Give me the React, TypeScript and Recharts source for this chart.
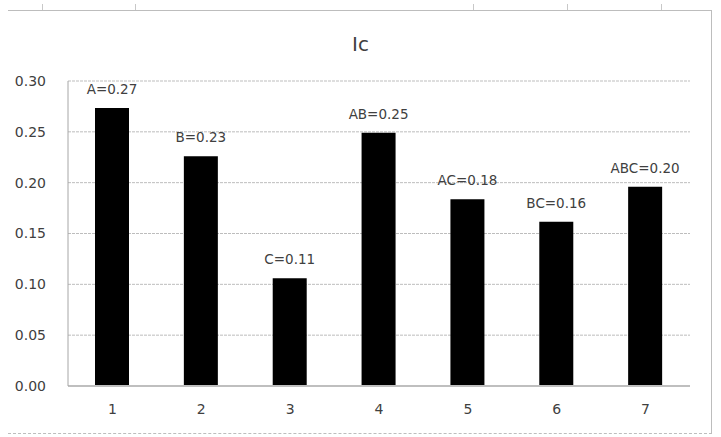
import { BarChart, Bar, XAxis, YAxis, CartesianGrid, LabelList } from "recharts";

const categories = ["1", "2", "3", "4", "5", "6", "7"];
const effectNames = ["A", "B", "C", "AB", "AC", "BC", "ABC"];
const icValues = [0.2735, 0.226, 0.106, 0.249, 0.1836, 0.1616, 0.196];
const yTicks = [0, 0.05, 0.1, 0.15, 0.2, 0.25, 0.3];

const data = categories.map((c, i) => ({ cat: c, ic: icValues[i] }));

const font = "'DejaVu Sans', sans-serif";
const textColor = "#404040";
// little cell marks on the sheet edge above the chart
const sheetMarks = [42, 135, 473, 567, 661];

export default function App() {
  return (
    <div style={{ position: "fixed", left: 0, top: 0, width: 721, height: 437, background: "#fff", fontFamily: font }}>
      <div style={{ position: "absolute", left: 8, top: 10, width: 703, height: 422, borderTop: "1px solid #bdbdbd", borderRight: "1px solid #bdbdbd", borderBottom: "1px dashed #bdbdbd" }} />
      {sheetMarks.map((x) => (
        <div key={x} style={{ position: "absolute", left: x, top: 4, width: 1, height: 6, background: "#c8c8c8" }} />
      ))}
      <div style={{ position: "absolute", left: 0, width: 721, top: 32, textAlign: "center", fontSize: 20, color: textColor }}>Ic</div>
      <BarChart width={721} height={437} data={data} margin={{ top: 81, right: 31, left: 0, bottom: 0 }}>
        <CartesianGrid vertical={false} stroke="#bdbdbd" strokeDasharray="3 1" />
        <XAxis
          dataKey="cat"
          height={51}
          tickLine={false}
          axisLine={{ stroke: "#bfbfbf", strokeWidth: 2 }}
          tick={{ fill: textColor, fontSize: 14, fontFamily: font }}
          tickMargin={12}
        />
        <YAxis
          width={68}
          domain={[0, 0.3]}
          ticks={yTicks}
          tickFormatter={(v) => Number(v).toFixed(2)}
          tickLine={false}
          axisLine={{ stroke: "#a6a6a6" }}
          tick={{ fill: textColor, fontSize: 14, fontFamily: font }}
          tickMargin={16}
        />
        <Bar dataKey="ic" fill="#000" barSize={34} isAnimationActive={false}>
          <LabelList
            dataKey="ic"
            content={(props: any) => {
              const { x, y, width, index, value } = props;
              return (
                <text x={x + width / 2} y={y - 14} textAnchor="middle" fill={textColor} fontSize={13.5} fontFamily={font}>
                  {`${effectNames[index]}=${Number(value).toFixed(2)}`}
                </text>
              );
            }}
          />
        </Bar>
      </BarChart>
    </div>
  );
}
